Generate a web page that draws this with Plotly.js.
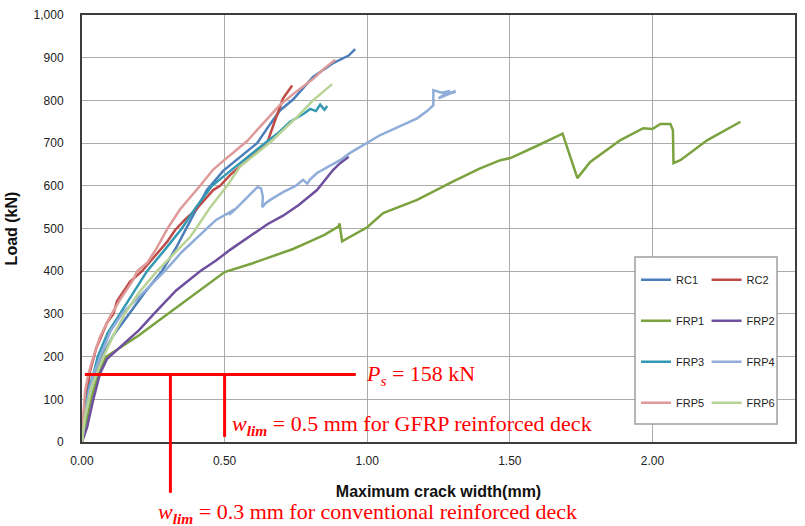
<!DOCTYPE html>
<html><head><meta charset="utf-8">
<script src="https://cdn.plot.ly/plotly-3.0.1.min.js"></script>
<style>html,body{margin:0;padding:0;background:#fff}#chart{width:805px;height:526px}</style>
</head><body><div id="chart"></div><script>
// ---- data (crack width in mm, load in kN) ----
const seriesNames = ['RC1','RC2','FRP1','FRP2','FRP3','FRP4','FRP5','FRP6'];
const seriesColors = ['#4A7EBB','#BE4B48','#7AA23F','#6E509E','#3399B3','#8FADD8','#DE9A99','#B9D395'];

const rc1X = [0,0.012,0.03,0.045,0.07,0.11,0.165,0.22,0.28,0.33,0.385,0.438,0.495,0.554,0.614,0.66,0.695,0.74,0.81,0.88,0.935,0.958];
const rc1Y = [0,60,120,158,200,250,300,350,400,455,525,590,635,668,700,745,777,802,855,887,905,920];

const rc2X = [0,0.01,0.028,0.05,0.088,0.11,0.123,0.168,0.21,0.249,0.30,0.326,0.36,0.40,0.46,0.484,0.519,0.60,0.649,0.67,0.695,0.705,0.737];
const rc2Y = [0,80,165,220,280,300,330,375,400,430,470,496,520,545,590,600,625,672,700,740,790,805,835];

const frp1X = [0,0.02,0.04,0.056,0.085,0.12,0.2,0.26,0.33,0.40,0.45,0.5,0.596,0.695,0.74,0.8,0.85,0.9,0.903,0.912,0.95,1.0,1.056,1.1,1.175,1.3,1.396,1.467,1.502,1.6,1.677,1.685,1.737,1.782,1.888,1.968,2.0,2.028,2.063,2.072,2.074,2.098,2.193,2.309];
const frp1Y = [0,60,120,158,200,215,250,280,315,350,375,398,418,442,452,470,485,505,512,470,485,503,536,548,567,610,641,660,665,695,719,722,618,656,707,735,733,745,745,730,653,660,707,750];

const frp2X = [0,0.018,0.039,0.063,0.088,0.13,0.2,0.252,0.33,0.414,0.47,0.519,0.596,0.65,0.705,0.76,0.824,0.88,0.905,0.935];
const frp2Y = [0,35,98,160,195,220,262,300,355,400,425,450,485,510,530,555,590,637,653,668];

const frp3X = [0,0.01,0.025,0.04,0.055,0.09,0.133,0.18,0.228,0.29,0.35,0.40,0.456,0.52,0.58,0.642,0.69,0.73,0.78,0.80,0.82,0.835,0.85,0.86];
const frp3Y = [0,70,130,158,200,255,300,350,400,450,500,550,600,635,668,700,725,750,770,780,775,790,778,787];

const frp4X = [0,0.01,0.025,0.04,0.07,0.10,0.14,0.2,0.26,0.29,0.35,0.43,0.47,0.51,0.535,0.515,0.53,0.56,0.59,0.615,0.628,0.634,0.632,0.645,0.66,0.705,0.75,0.775,0.79,0.80,0.824,0.87,0.905,0.94,1.0,1.046,1.1,1.175,1.21,1.232,1.232,1.26,1.29,1.25,1.31,1.27,1.31];
const frp4Y = [0,60,120,158,210,260,300,340,380,400,445,496,520,535,545,532,540,560,580,597,594,575,550,560,567,585,600,614,605,615,630,648,660,677,700,719,735,758,775,789,824,818,822,805,822,812,820];

const frp5X = [0,0.004,0.011,0.022,0.04,0.063,0.098,0.133,0.179,0.193,0.228,0.263,0.30,0.344,0.414,0.46,0.484,0.579,0.62,0.695,0.75,0.81,0.85,0.888];
const frp5Y = [0,60,120,158,200,246,293,333,379,400,419,455,500,545,600,638,652,705,735,790,820,850,875,895];

const frp6X = [0,0.01,0.03,0.05,0.075,0.11,0.15,0.20,0.263,0.32,0.379,0.40,0.45,0.509,0.554,0.61,0.665,0.72,0.754,0.81,0.877];
const frp6Y = [0,55,120,158,200,250,300,350,400,440,480,500,550,600,645,675,705,740,761,800,838];

const xTickVals = [0,0.5,1,1.5,2,2.5];
const yTickVals = [0,100,200,300,400,500,600,700,800,900,1000];

const serviceLoad = 158;      // P_s
const wlimGFRP = 0.5;         // w_lim GFRP
const wlimRC = 0.31;          // w_lim conventional (as drawn)

const xs = [rc1X,rc2X,frp1X,frp2X,frp3X,frp4X,frp5X,frp6X];
const ys = [rc1Y,rc2Y,frp1Y,frp2Y,frp3Y,frp4Y,frp5Y,frp6Y];

const traces = seriesNames.map((n,i)=>({
  type:'scatter', mode:'lines', name:n, x:xs[i], y:ys[i],
  line:{color:seriesColors[i], width:2.5},
  legend: (i%2===0) ? 'legend' : 'legend2',
  legendgroup:n
}));

const red = '#FF0000';
const serif = 'Liberation Serif, DejaVu Serif, serif';
const legendCommon = {
  bgcolor:'rgba(0,0,0,0)', borderwidth:0, traceorder:'grouped', tracegroupgap:22,
  font:{family:'Liberation Sans, Arial, sans-serif', size:11, color:'#222'},
  xanchor:'left', yanchor:'top', itemwidth:30
};

const layout = {
  width:805, height:526,
  margin:{l:82, r:10, t:15, b:84},
  paper_bgcolor:'#fff', plot_bgcolor:'#fff',
  showlegend:true,
  font:{family:'Liberation Sans, Arial, sans-serif', color:'#222'},
  xaxis:{
    range:[0,2.5], tickvals:xTickVals, tickformat:'.2f',
    showgrid:true, gridcolor:'#ABABAB', gridwidth:1, zeroline:false,
    showline:true, mirror:true, linecolor:'#3C3C3C', linewidth:2,
    ticks:'', ticklabelstandoff:7,
    tickfont:{size:12, color:'#222'},
    title:{text:'<b>Maximum crack width(mm)</b>', font:{size:16, color:'#111'}, standoff:18}
  },
  yaxis:{
    range:[0,1000], tickvals:yTickVals, tickformat:',d',
    showgrid:true, gridcolor:'#ABABAB', gridwidth:1, zeroline:false,
    showline:true, mirror:true, linecolor:'#3C3C3C', linewidth:2,
    ticks:'', ticklabelstandoff:14,
    tickfont:{size:12, color:'#222'},
    title:{text:'<b>Load (kN)</b>', font:{size:16, color:'#111'}, standoff:12}
  },
  legend: Object.assign({x:0.777, y:0.414}, legendCommon),
  legend2: Object.assign({x:0.876, y:0.414}, legendCommon),
  shapes:[
    {type:'rect', xref:'paper', yref:'paper', x0:0.7756, x1:0.9748, y0:0.0422, y1:0.4333,
     fillcolor:'#fff', line:{color:'#9E9E9E', width:1.5}, layer:'above'},
    {type:'line', xref:'x', yref:'y', x0:0.01, x1:0.96, y0:serviceLoad, y1:serviceLoad, line:{color:red, width:3}},
    {type:'line', xref:'x', yref:'y', x0:wlimGFRP, x1:wlimGFRP, y0:serviceLoad, y1:12, line:{color:red, width:3}},
    {type:'line', xref:'x', yref:'paper', x0:wlimRC, x1:wlimRC, y0:serviceLoad/1000, y1:-0.119, line:{color:red, width:3}}
  ],
  annotations:[
    {xref:'x', yref:'y', x:0.99, y:serviceLoad, xanchor:'left', yanchor:'middle', showarrow:false,
     text:'<i>P<sub>s</sub></i> = 158 kN', font:{family:serif, size:22, color:red}},
    {xref:'x', yref:'y', x:0.52, y:40, xanchor:'left', yanchor:'middle', showarrow:false,
     text:'<i>w<sub><b>lim</b></sub></i> = 0.5 mm for GFRP reinforced deck', font:{family:serif, size:22, color:red}},
    {xref:'x', yref:'paper', x:0.258, y:-0.166, xanchor:'left', yanchor:'middle', showarrow:false,
     text:'<i>w<sub><b>lim</b></sub></i> = 0.3 mm for conventional reinforced deck', font:{family:serif, size:22, color:red}}
  ]
};

Plotly.newPlot('chart', traces, layout, {displayModeBar:false, staticPlot:true});
</script></body></html>
